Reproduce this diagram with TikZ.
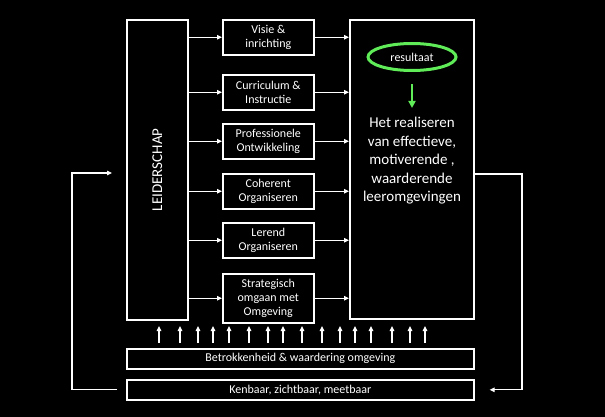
\documentclass[tikz,border=0pt]{standalone}
\usepackage{fontspec}
\setmainfont{Carlito}
\usetikzlibrary{positioning,arrows.meta,shapes.geometric}
\definecolor{felgroen}{RGB}{96,236,88}

\tikzset{
  blok/.style={draw=white, line width=1.6pt, fill=black, text=white, align=center, inner sep=0pt},
  thema/.style={blok, minimum width=91pt, minimum height=35pt, anchor=north west, font=\fontsize{12}{14}\selectfont},
  balk/.style={blok, minimum width=347pt, minimum height=20pt, anchor=north west, font=\fontsize{12}{14}\selectfont},
  pijl/.style={draw=white, line width=1.2pt, -{Triangle[length=5pt,width=4.5pt]}},
  groenpijl/.style={draw=felgroen, line width=2pt, -{Triangle[length=7pt,width=7pt]}},
}

\begin{document}
\begin{tikzpicture}[x=1pt, y=-1pt]
\useasboundingbox[fill=black] (0,0) rectangle (605,417);

% ----------------- Left column -----------------
\node (leider) [blok, minimum width=61pt, minimum height=300pt, anchor=north west, font=\fontsize{15}{17}\selectfont] at (126,19) {\rotatebox{90}{LEIDERSCHAP}};

% ----------------- Middle column -----------------
\node (visie) [thema] at (222,19) {Visie \&\\inrichting};
\node (curric) [thema] at (222,74) {Curriculum \&\\Instructie};
\node (prof) [thema] at (222,123) {Professionele\\Ontwikkeling};
\node (coher) [thema] at (222,173) {Coherent\\Organiseren};
\node (lerend) [thema] at (222,222) {Lerend\\Organiseren};
\node (strat) [thema, minimum height=49pt] at (222,273) {Strategisch\\omgaan met\\Omgeving};

% ----------------- Right column -----------------
\node (leerom) [blok, minimum width=124pt, minimum height=299pt, anchor=north west] at (349,19) {};
\node (doel) [ellipse, draw=felgroen, line width=3pt, text=white, minimum width=88pt, minimum height=27pt, font=\fontsize{12}{14}\selectfont] at (412,57) {resultaat};
\node (kern) [text=white, align=center, font=\fontsize{15}{18.5}\selectfont] at (412,161) {Het realiseren\\van effectieve,\\motiverende ,\\waarderende\\leeromgevingen};
\draw[groenpijl, shorten <=12pt, shorten >=6pt] (doel.south) -- (kern.north);

% ----------------- Bottom bars -----------------
\node (betrok) [balk] at (126,348) {Betrokkenheid \& waardering omgeving};
\node (kenbaar) [balk] at (126,379) {Kenbaar, zichtbaar, meetbaar};

% ----------------- Arrows -----------------
\foreach \t in {visie,curric,prof,coher,lerend,strat} {
  \draw[pijl] (leider.east |- \t.west) -- (\t.west);
  \draw[pijl] (\t.east) -- (leerom.west |- \t.east);
}

\foreach \x in {159,180,198,213,229,249,268,283,302,322,340,355,371,392,410,425} {
  \draw[pijl, shorten <=5pt] (betrok.north -| \x,0) -- ++(0,-22);
}

\draw[pijl, shorten >=15pt] (leerom.east |- 0,174) -| (522,0 |- kenbaar.east) -- (kenbaar.east);
\draw[pijl, shorten <=9pt, shorten >=14pt] (kenbaar.west) -- (72,0 |- kenbaar.west) |- (leider.west |- 0,173);

\end{tikzpicture}
\end{document}
